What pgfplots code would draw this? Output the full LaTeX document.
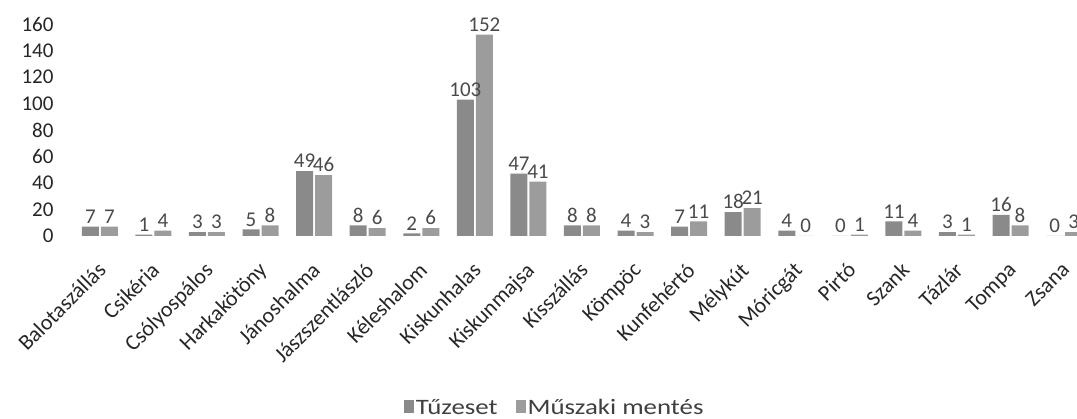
\documentclass[border=0pt]{standalone}
\usepackage{pgfplots}
\pgfplotsset{compat=1.18}
\usepackage{fontspec}
\setmainfont{Carlito}
\definecolor{tuz}{HTML}{8A8A8A}
\definecolor{musz}{HTML}{9C9C9C}
\definecolor{lbl}{HTML}{4A4A4A}
\begin{document}
\begin{tikzpicture}
\useasboundingbox (0,0) rectangle (1077pt,419pt);
\begin{axis}[
  at={(57pt,183pt)}, anchor=south west,
  scale only axis,
  width=1020pt, height=212pt,
  ybar=2pt, bar width=17pt,
  xmin=-0.8, xmax=18.24,
  ymin=0, ymax=160,
  ytick={0,20,...,160},
  xtick={0,...,18},
  xticklabels={Balotaszállás,Csikéria,Csólyospálos,Harkakötöny,Jánoshalma,Jászszentlászló,Kéleshalom,Kiskunhalas,Kiskunmajsa,Kisszállás,Kömpöc,Kunfehértó,Mélykút,Móricgát,Pirtó,Szank,Tázlár,Tompa,Zsana},
  axis line style={draw=none},
  major tick length=0pt,
  /pgf/number format/assume math mode=true,
  yticklabel style={font=\fontsize{21}{24}\selectfont, text=black!85},
  xticklabel style={font=\fontsize{22}{25}\selectfont, text=black!85, rotate=45, anchor=north east, inner sep=1pt, xshift=-19pt, yshift=-14pt},
  nodes near coords,
  every node near coord/.append style={font=\fontsize{21}{24}\selectfont, text=lbl, inner sep=3pt},
  legend columns=2,
  legend style={draw=none, at={(0.488,-0.81)}, anchor=center, font=\fontsize{22}{25}\selectfont, text=black!75, /tikz/every even column/.append style={column sep=16pt}},
  legend image code/.code={\draw[#1, draw=none] (0pt,-5pt) rectangle (10pt,8pt);},
]
\addplot[fill=tuz, draw=none] coordinates {
 (0,7) (1,1) (2,3) (3,5) (4,49) (5,8) (6,2) (7,103) (8,47) (9,8)
 (10,4) (11,7) (12,18) (13,4) (14,0) (15,11) (16,3) (17,16) (18,0)};
\addplot[fill=musz, draw=none] coordinates {
 (0,7) (1,4) (2,3) (3,8) (4,46) (5,6) (6,6) (7,152) (8,41) (9,8)
 (10,3) (11,11) (12,21) (13,0) (14,1) (15,4) (16,1) (17,8) (18,3)};
\legend{\scalebox{1.22}[1]{Tűzeset}, \scalebox{1.22}[1]{Műszaki mentés}}
\end{axis}
\end{tikzpicture}
\end{document}
